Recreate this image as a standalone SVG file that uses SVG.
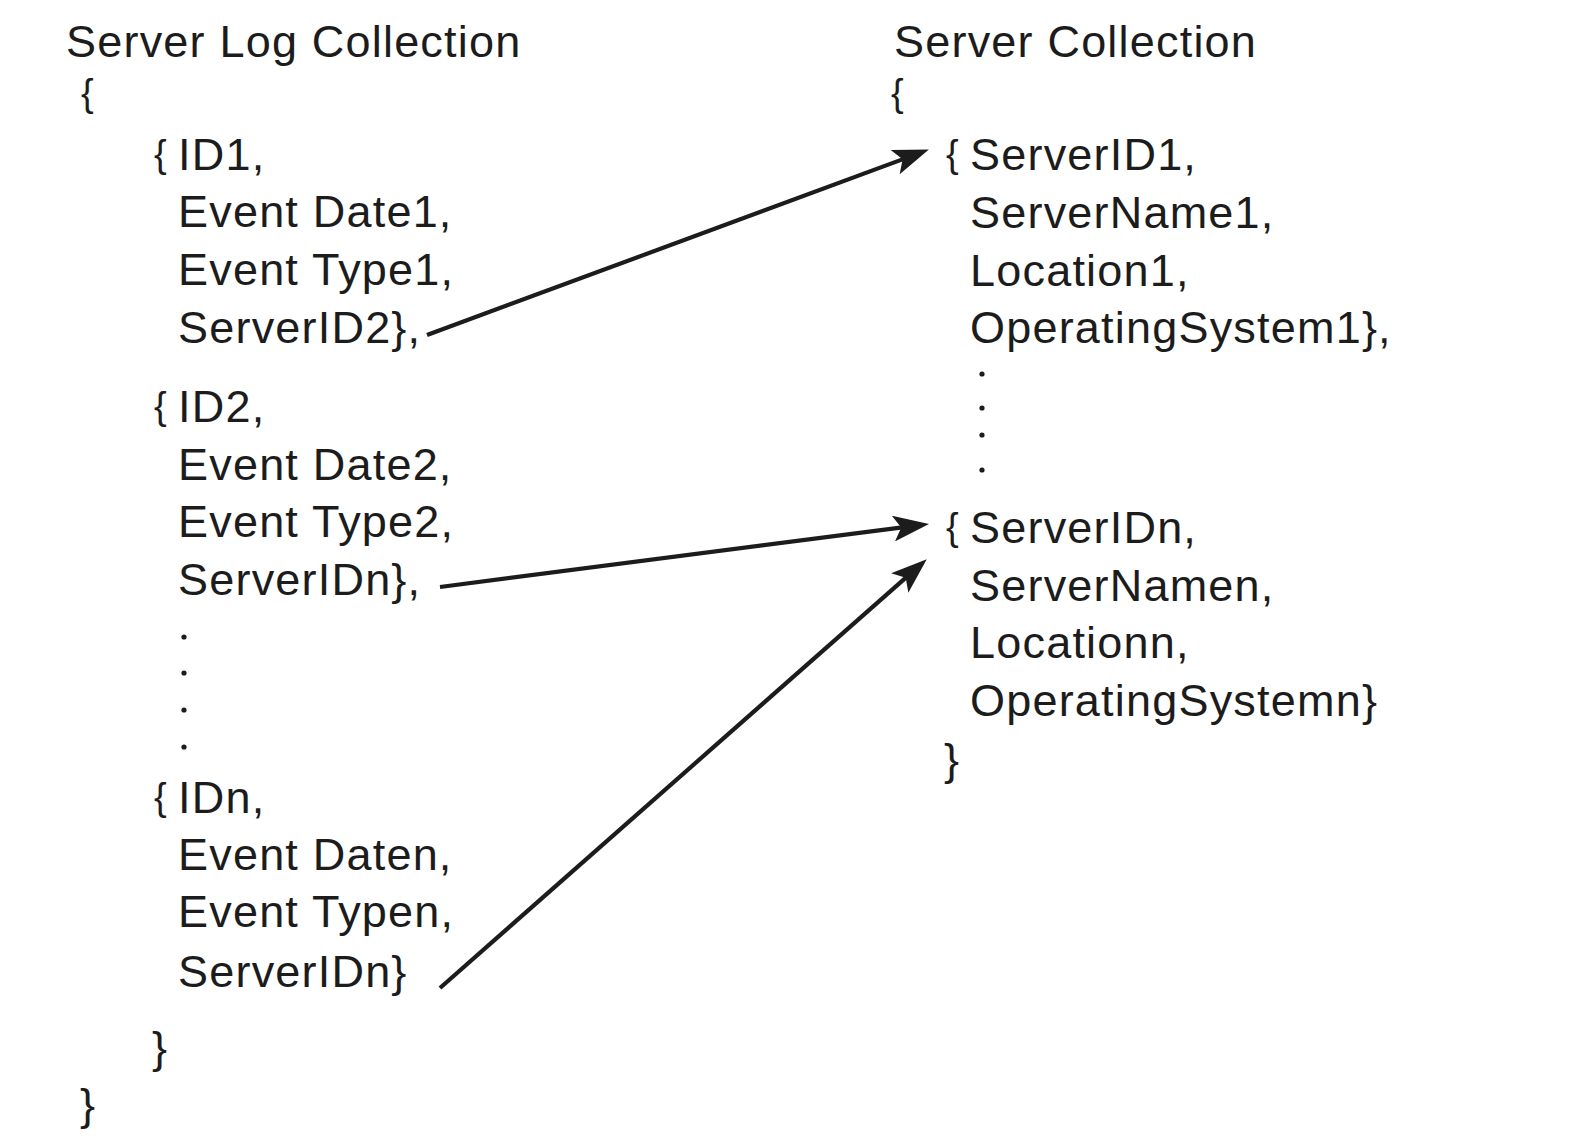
<svg xmlns="http://www.w3.org/2000/svg" width="1578" height="1148" viewBox="0 0 1578 1148">
<defs>
<style>
text{font-family:"Liberation Sans",Arial,sans-serif;font-size:45px;fill:#1c1c1c;letter-spacing:1.2px}
.ob{font-size:38px;letter-spacing:0}
.cb{letter-spacing:0}
.dot{fill:#1c1c1c}
.conn line{stroke:#1c1c1c;stroke-width:4.2;fill:none;marker-end:url(#ah)}
</style>
<marker id="ah" markerUnits="userSpaceOnUse" viewBox="0 0 36 26" markerWidth="36" markerHeight="26" refX="15" refY="13" orient="auto">
<path d="M0,0 L36,13 L0,26 L8,13 z" fill="#1c1c1c"/>
</marker>
</defs>
<rect width="1578" height="1148" fill="#ffffff"/>

<g id="server-log-collection">
<text x="66" y="57">Server Log Collection</text>
<text class="ob" x="81" y="106">{</text>
<text class="cb" x="80" y="1120">}</text>
</g>

<g id="log-1">
<text class="ob" x="154" y="167">{</text>
<text x="178" y="170">ID1,</text>
<text x="178" y="227">Event Date1,</text>
<text x="178" y="285">Event Type1,</text>
<text x="178" y="343">ServerID2},</text>
</g>

<g id="log-2">
<text class="ob" x="154" y="419">{</text>
<text x="178" y="422">ID2,</text>
<text x="178" y="480">Event Date2,</text>
<text x="178" y="537">Event Type2,</text>
<text x="178" y="595">ServerIDn},</text>
<circle class="dot" cx="184" cy="637" r="2.6"/>
<circle class="dot" cx="184" cy="673" r="2.6"/>
<circle class="dot" cx="184" cy="710" r="2.6"/>
<circle class="dot" cx="184" cy="747" r="2.6"/>
</g>

<g id="log-n">
<text class="ob" x="154" y="810">{</text>
<text x="178" y="813">IDn,</text>
<text x="178" y="870">Event Daten,</text>
<text x="178" y="927">Event Typen,</text>
<text x="178" y="987">ServerIDn}</text>
<text class="cb" x="152" y="1063">}</text>
</g>

<g id="server-collection">
<text x="894" y="57">Server Collection</text>
<text class="ob" x="891" y="106">{</text>
<text class="cb" x="944" y="775">}</text>
</g>

<g id="server-1">
<text class="ob" x="946" y="167">{</text>
<text x="970" y="170">ServerID1,</text>
<text x="970" y="228">ServerName1,</text>
<text x="970" y="286">Location1,</text>
<text x="970" y="343">OperatingSystem1},</text>
<circle class="dot" cx="982" cy="374" r="2.6"/>
<circle class="dot" cx="982" cy="408" r="2.6"/>
<circle class="dot" cx="982" cy="435" r="2.6"/>
<circle class="dot" cx="982" cy="470" r="2.6"/>
</g>

<g id="server-n">
<text class="ob" x="946" y="540">{</text>
<text x="970" y="543">ServerIDn,</text>
<text x="970" y="601">ServerNamen,</text>
<text x="970" y="658">Locationn,</text>
<text x="970" y="716">OperatingSystemn}</text>
</g>

<g id="connectors" class="conn">
<line x1="427" y1="335" x2="909.2" y2="156.9"/>
<line x1="440" y1="587" x2="908.2" y2="526.6"/>
<line x1="440" y1="988" x2="911" y2="573.2"/>
</g>
</svg>
